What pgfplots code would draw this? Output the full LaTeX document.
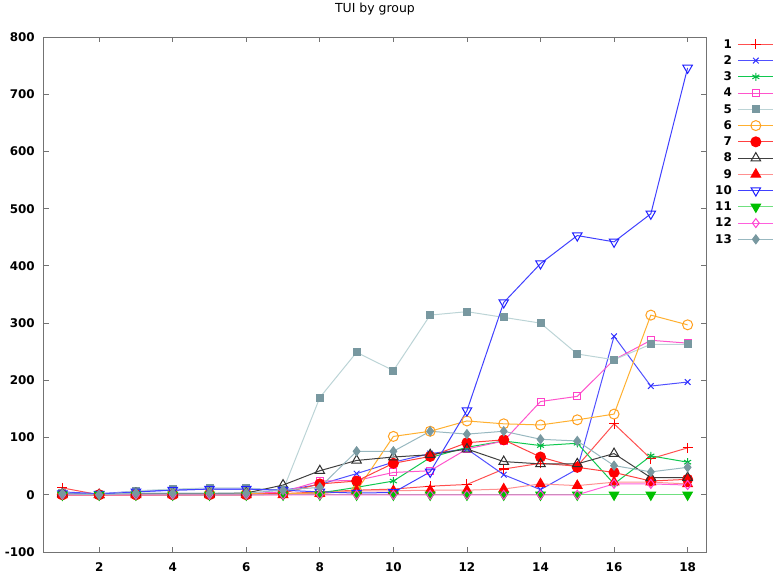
\documentclass[border=0pt]{standalone}
\usepackage{fontspec}
\setmainfont{DejaVu Sans}
\usepackage{pgfplots}
\pgfplotsset{compat=1.18}
\definecolor{lc1}{HTML}{FF5050}\definecolor{mc1}{HTML}{FF1010}
\definecolor{lc2}{HTML}{5050FF}\definecolor{mc2}{HTML}{3030FF}
\definecolor{lc3}{HTML}{10C850}\definecolor{mc3}{HTML}{00B840}
\definecolor{lc4}{HTML}{FF55CC}\definecolor{mc4}{HTML}{FF40C8}
\definecolor{lc5}{HTML}{BCD4D6}\definecolor{mc5}{HTML}{7898A0}
\definecolor{lc6}{HTML}{FFB030}\definecolor{mc6}{HTML}{FFA020}
\definecolor{lc7}{HTML}{FF4040}\definecolor{mc7}{HTML}{FF0000}
\definecolor{lc8}{HTML}{404040}\definecolor{mc8}{HTML}{303030}
\definecolor{lc9}{HTML}{FF9090}\definecolor{mc9}{HTML}{FF0000}
\definecolor{lc10}{HTML}{4040FF}\definecolor{mc10}{HTML}{2020FF}
\definecolor{lc11}{HTML}{70E080}\definecolor{mc11}{HTML}{00C000}
\definecolor{lc12}{HTML}{FF60DD}\definecolor{mc12}{HTML}{FF40D0}
\definecolor{lc13}{HTML}{98B8C0}\definecolor{mc13}{HTML}{7898A0}
\begin{document}
\begin{tikzpicture}
\begin{axis}[
  at={(0,0)}, anchor=south west,
  scale only axis, width=662bp, height=515bp,
  xmin=0.5, xmax=18.5, ymin=-100, ymax=800,
  xtick={2,4,...,18}, ytick={-100,0,...,800},
  tick align=inside, major tick length=5bp,
  axis line style={black!55, line width=1bp},
  every tick/.style={black!55, line width=0.8bp},
  /pgf/number format/assume math mode=true,
  tick label style={font=\bfseries\fontsize{12}{12}\selectfont},
  xticklabel style={anchor=base, yshift=-19bp},
  yticklabel style={anchor=east, inner sep=0pt, xshift=-9bp},
  title={TUI by group},
  title style={at={(0.5,1)}, anchor=base, yshift=19bp, font=\fontsize{12.5}{14}\selectfont},
  legend style={at={(1,1)}, anchor=north west, xshift=9bp, yshift=1bp, draw=none, fill=none,
    inner sep=0pt, font=\bfseries\fontsize{12}{12}\selectfont, column sep=6bp,
    nodes={inner sep=0pt, text height=12bp, text depth=4.25bp}},
  legend cell align=right, legend plot pos=right,
  legend image code/.code={\draw[mark repeat=2,mark phase=2] plot coordinates {(0bp,0bp) (17.5bp,0bp) (35bp,0bp)};},
  every axis plot/.append style={line width=1bp},
]
\addplot[lc1, mark=+, mark size=5bp, mark options={solid, red, line width=1.1bp}] coordinates {(1,12)(2,0)(3,0)(4,0)(5,1)(6,1)(7,2)(8,5)(9,8)(10,10)(11,15)(12,18)(13,45)(14,55)(15,50)(16,124)(17,63)(18,82)};
\addplot[lc2, mark=x, mark size=4bp, mark options={draw=mc2}] coordinates {(1,5)(2,2)(3,6)(4,8)(5,10)(6,10)(7,8)(8,18)(9,37)(10,57)(11,72)(12,80)(13,35)(14,9)(15,45)(16,277)(17,190)(18,197)};
\addplot[lc3, mark=asterisk, mark size=4bp, mark options={draw=mc3}] coordinates {(1,0)(2,0)(3,0)(4,0)(5,0)(6,0)(7,1)(8,3)(9,13)(10,24)(11,65)(12,83)(13,94)(14,86)(15,90)(16,19)(17,68)(18,57)};
\addplot[lc4, mark=square, mark size=3.5bp, mark options={draw=mc4}] coordinates {(1,0)(2,0)(3,0)(4,1)(5,2)(6,2)(7,5)(8,24)(9,25)(10,39)(11,42)(12,80)(13,94)(14,163)(15,172)(16,236)(17,270)(18,265)};
\addplot[lc5, mark=square*, mark size=3.5bp, mark options={draw=mc5, fill=mc5}] coordinates {(1,3)(2,0)(3,7)(4,10)(5,12)(6,12)(7,8)(8,170)(9,249)(10,217)(11,314)(12,320)(13,310)(14,300)(15,246)(16,236)(17,263)(18,263)};
\addplot[lc6, mark=o, mark size=5bp, mark options={draw=mc6}] coordinates {(1,0)(2,0)(3,0)(4,1)(5,2)(6,2)(7,2)(8,3)(9,7)(10,102)(11,111)(12,129)(13,124)(14,122)(15,131)(16,141)(17,314)(18,297)};
\addplot[lc7, mark=*, mark size=5bp, mark options={draw=mc7, fill=mc7}] coordinates {(1,0)(2,0)(3,0)(4,0)(5,0)(6,0)(7,3)(8,19)(9,24)(10,55)(11,67)(12,91)(13,96)(14,66)(15,48)(16,39)(17,24)(18,27)};
\addplot[lc8, mark=triangle, mark size=5.5bp, mark options={draw=mc8}] coordinates {(1,2)(2,0)(3,2)(4,2)(5,2)(6,3)(7,17)(8,42)(9,60)(10,66)(11,70)(12,80)(13,58)(14,54)(15,54)(16,72)(17,30)(18,30)};
\addplot[lc9, mark=triangle*, mark size=5.5bp, mark options={draw=mc9, fill=mc9}] coordinates {(1,0)(2,0)(3,0)(4,0)(5,0)(6,0)(7,0)(8,2)(9,7)(10,7)(11,8)(12,8)(13,10)(14,19)(15,16)(16,22)(17,22)(18,19)};
\addplot[lc10, mark=triangle, mark size=5.5bp, mark options={draw=mc10, rotate=180}] coordinates {(1,2)(2,1)(3,5)(4,8)(5,10)(6,10)(7,8)(8,5)(9,3)(10,4)(11,40)(12,147)(13,336)(14,404)(15,453)(16,442)(17,491)(18,746)};
\addplot[lc11, mark=triangle*, mark size=5.5bp, mark options={draw=mc11, fill=mc11, rotate=180}] coordinates {(1,0)(2,0)(3,0)(4,0)(5,0)(6,0)(7,0)(8,0)(9,0)(10,0)(11,0)(12,0)(13,0)(14,0)(15,0)(16,0)(17,0)(18,0)};
\addplot[lc12, mark=diamond, mark size=4.5bp, mark options={draw=mc12}] coordinates {(1,0)(2,0)(3,0)(4,0)(5,0)(6,0)(7,0)(8,0)(9,0)(10,0)(11,0)(12,0)(13,0)(14,0)(15,0)(16,19)(17,19)(18,17)};
\addplot[lc13, mark=diamond*, mark size=4.5bp, mark options={draw=mc13, fill=mc13}] coordinates {(1,2)(2,0)(3,3)(4,3)(5,3)(6,3)(7,8)(8,13)(9,76)(10,76)(11,111)(12,106)(13,111)(14,97)(15,94)(16,51)(17,40)(18,48)};
\legend{1,2,3,4,5,6,7,8,9,10,11,12,13}
\end{axis}
\pgfresetboundingbox
\useasboundingbox (-44bp,-25bp) rectangle (731bp,552bp);
\end{tikzpicture}
\end{document}
